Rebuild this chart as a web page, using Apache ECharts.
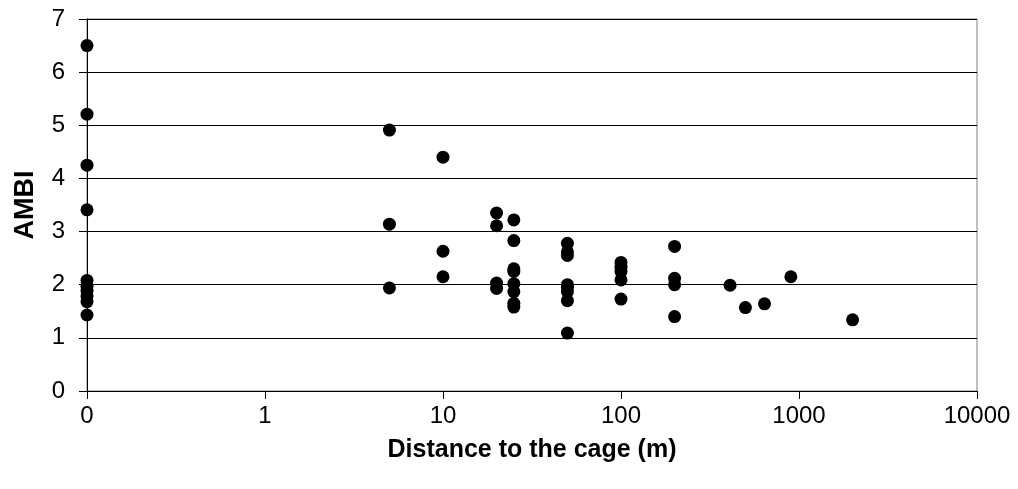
<!DOCTYPE html>
<html>
<head>
<meta charset="utf-8">
<script src="https://cdn.jsdelivr.net/npm/echarts@6/dist/echarts.min.js"></script>
<style>
  html, body { margin: 0; padding: 0; background: #fff; }
  #chart { width: 1018px; height: 489px; }
</style>
</head>
<body>
<div id="chart"></div>
<script>
// Sampling stations: distance to the cage (m) and AMBI score.
// Stations directly under the cage (distance 0) sit on the log axis floor, 0.1.
const distance = [
  0.1, 0.1, 0.1, 0.1, 0.1, 0.1, 0.1, 0.1, 0.1, 0.1,
  5, 5, 5,
  10, 10, 10,
  20, 20, 20, 20,
  25, 25, 25, 25, 25, 25, 25, 25,
  50, 50, 50, 50, 50, 50, 50, 50,
  100, 100, 100, 100, 100,
  200, 200, 200, 200,
  410, 500, 640, 900, 2000
];
const ambi = [
  6.50, 5.21, 4.25, 3.41, 2.08, 1.97, 1.88, 1.78, 1.68, 1.43,
  4.91, 3.14, 1.94,
  4.40, 2.63, 2.15,
  3.35, 3.11, 2.03, 1.93,
  3.22, 2.83, 2.30, 2.25, 2.02, 1.87, 1.65, 1.58,
  2.78, 2.62, 2.55, 2.00, 1.95, 1.87, 1.70, 1.09,
  2.42, 2.33, 2.25, 2.09, 1.73,
  2.72, 2.12, 2.00, 1.40,
  1.99, 1.57, 1.64, 2.15, 1.34
];
const xTickLabels = { 0.1: '0', 1: '1', 10: '10', 100: '100', 1000: '1000', 10000: '10000' };
const xTitle = 'Distance to the cage (m)';
const yTitle = 'AMBI';

const points = distance.map((d, i) => [d, ambi[i]]);
const font = '"Liberation Sans", Arial, sans-serif';

const chart = echarts.init(document.getElementById('chart'), null, { renderer: 'canvas' });
chart.setOption({
  animation: false,
  backgroundColor: '#ffffff',
  grid: {
    left: 87, right: 41, top: 19, bottom: 98,
    show: true, borderColor: '#808080', borderWidth: 1, backgroundColor: 'transparent'
  },
  xAxis: {
    type: 'log',
    logBase: 10,
    min: 0.1,
    max: 10000,
    name: xTitle,
    nameLocation: 'middle',
    nameGap: 47,
    nameTextStyle: { fontFamily: font, fontSize: 25, fontWeight: 'bold', color: '#000' },
    axisLine: { show: true, lineStyle: { color: '#000', width: 1 } },
    axisTick: { show: true, inside: false, length: 8, lineStyle: { color: '#000' } },
    minorTick: { show: false },
    splitLine: { show: false },
    axisLabel: {
      margin: 13,
      fontFamily: font, fontSize: 24, color: '#000',
      formatter: v => {
        const key = Number(v.toPrecision(6));
        return xTickLabels[key] !== undefined ? xTickLabels[key] : '';
      }
    }
  },
  yAxis: {
    type: 'value',
    min: 0,
    max: 7,
    interval: 1,
    name: yTitle,
    nameLocation: 'middle',
    nameRotate: 90,
    nameGap: 48,
    nameTextStyle: { fontFamily: font, fontSize: 27, fontWeight: 'bold', color: '#000' },
    axisLine: { show: true, lineStyle: { color: '#000', width: 1 } },
    axisTick: { show: true, inside: false, length: 8, lineStyle: { color: '#000' } },
    splitLine: { show: true, lineStyle: { color: '#000', width: 1 } },
    axisLabel: { margin: 22, fontFamily: font, fontSize: 24, color: '#000' }
  },
  series: [{
    type: 'scatter',
    data: points,
    symbol: 'circle',
    symbolSize: 13,
    itemStyle: { color: '#000', opacity: 1 },
    clip: false
  }]
});
</script>
</body>
</html>
